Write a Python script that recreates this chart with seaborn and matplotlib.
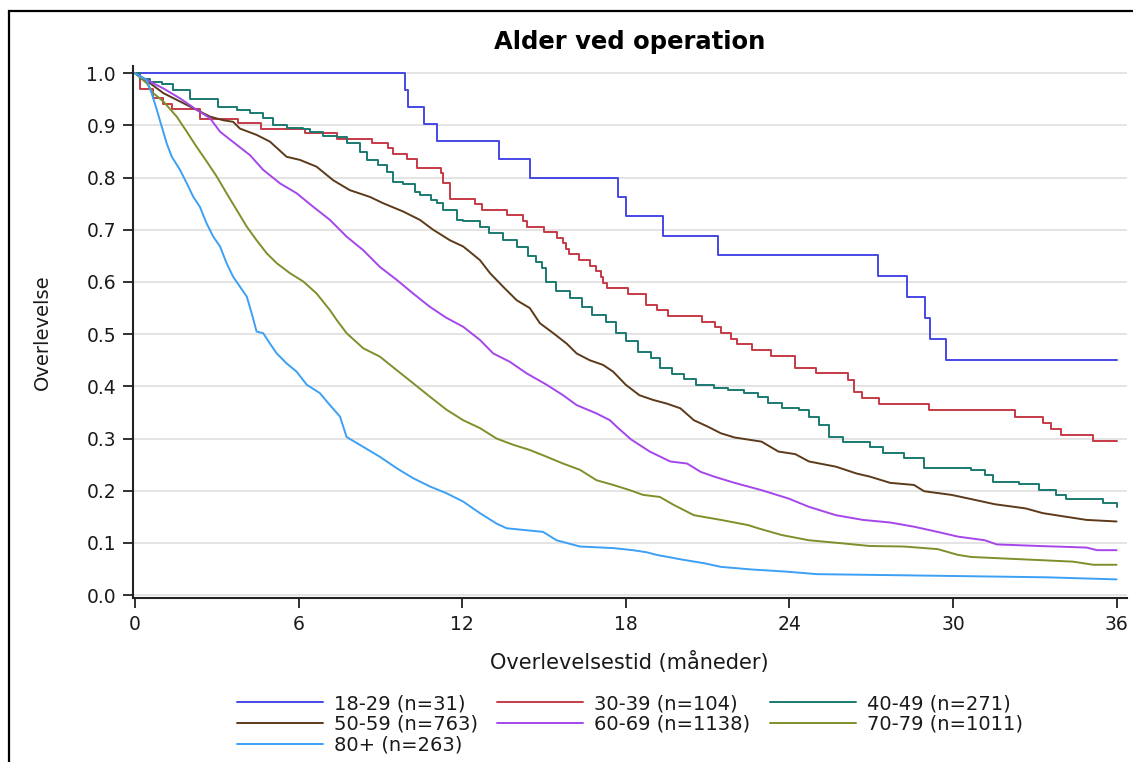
import numpy as np
import pandas as pd
import matplotlib
matplotlib.use("Agg")
import matplotlib.pyplot as plt
import seaborn as sns
from matplotlib.lines import Line2D

# ---------------- data ----------------
groups = ["18-29 (n=31)", "30-39 (n=104)", "40-49 (n=271)", "50-59 (n=763)",
          "60-69 (n=1138)", "70-79 (n=1011)", "80+ (n=263)"]
colors = ["#4646E6", "#C53A45", "#1B7A70", "#5C3A1A", "#A546EB", "#7F8F2A", "#3CA0F5"]
stepped = [True, True, True, False, False, False, False]

t18 = [0, 9.9, 10.0, 10.6, 11.07, 13.35, 14.5, 17.7, 18.0, 19.36, 21.4, 27.25, 28.3,
       28.97, 29.15, 29.74, 36]
s18 = [1.0, 0.968, 0.935, 0.903, 0.871, 0.835, 0.799, 0.763, 0.726, 0.689, 0.652, 0.612,
       0.571, 0.531, 0.490, 0.45, 0.45]

t30 = [0, 0.18, 0.65, 1.03, 1.35, 2.38, 3.79, 4.61, 6.23, 7.42, 8.7, 9.29, 9.45, 9.96,
       10.33, 11.21, 11.31, 11.55, 12.47, 12.71, 13.64, 14.22, 14.38, 15.0, 15.49, 15.69,
       15.79, 15.9, 16.28, 16.7, 16.92, 17.1, 17.18, 17.3, 18.1, 18.76, 19.13, 19.55, 20.8,
       21.26, 21.48, 21.86, 22.09, 22.63, 23.33, 24.22, 24.97, 26.15, 26.36, 26.68, 27.3,
       29.13, 32.27, 33.3, 33.6, 33.95, 35.15, 36]
s30 = [1.0, 0.970, 0.952, 0.942, 0.931, 0.912, 0.904, 0.893, 0.885, 0.874, 0.866, 0.856,
       0.845, 0.835, 0.818, 0.808, 0.789, 0.760, 0.749, 0.738, 0.728, 0.717, 0.706, 0.695,
       0.685, 0.674, 0.663, 0.653, 0.642, 0.631, 0.621, 0.610, 0.599, 0.588, 0.577, 0.556,
       0.546, 0.535, 0.524, 0.513, 0.502, 0.491, 0.481, 0.470, 0.459, 0.436, 0.425, 0.412,
       0.390, 0.378, 0.366, 0.355, 0.342, 0.329, 0.318, 0.306, 0.295, 0.295]

t40 = [0, 0.2, 0.55, 0.98, 1.4, 2.0, 3.06, 3.73, 4.2, 4.7, 5.07, 5.56, 6.17, 6.42, 6.9,
       7.4, 7.76, 8.25, 8.5, 8.92, 9.23, 9.47, 9.84, 10.27, 10.45, 10.85, 11.06, 11.3, 11.8,
       12.04, 12.65, 13.0, 13.5, 14.0, 14.42, 14.7, 14.93, 15.08, 15.45, 15.96, 16.4, 16.77,
       17.29, 17.64, 18.0, 18.44, 18.93, 19.25, 19.69, 20.12, 20.56, 21.24, 21.74, 22.35,
       22.85, 23.22, 23.72, 24.34, 24.72, 25.09, 25.47, 25.96, 26.95, 27.45, 28.2, 28.94,
       30.66, 31.17, 31.48, 32.41, 33.16, 33.78, 34.15, 35.5, 36]
s40 = [1.0, 0.99, 0.984, 0.979, 0.968, 0.950, 0.936, 0.930, 0.923, 0.914, 0.901, 0.895,
       0.893, 0.888, 0.879, 0.877, 0.866, 0.850, 0.834, 0.824, 0.811, 0.792, 0.787, 0.773,
       0.767, 0.757, 0.751, 0.738, 0.719, 0.716, 0.706, 0.693, 0.680, 0.668, 0.650, 0.639,
       0.626, 0.600, 0.583, 0.569, 0.553, 0.537, 0.524, 0.502, 0.486, 0.466, 0.454, 0.435,
       0.424, 0.415, 0.403, 0.397, 0.393, 0.387, 0.380, 0.369, 0.358, 0.355, 0.342, 0.326,
       0.303, 0.294, 0.284, 0.273, 0.262, 0.243, 0.240, 0.230, 0.217, 0.213, 0.201, 0.192,
       0.185, 0.176, 0.169]

t50 = [0, 0.55, 1.04, 1.65, 2.26, 2.75, 3.24, 3.6, 3.85, 4.46, 4.95, 5.56, 6.05, 6.66,
       7.27, 7.88, 8.62, 9.1, 9.84, 10.45, 10.94, 11.55, 12.04, 12.65, 13.02, 13.5, 14.0,
       14.48, 14.85, 15.34, 15.83, 16.2, 16.68, 17.17, 17.54, 18.0, 18.5, 19.0, 19.5, 20.0,
       20.5, 21.0, 21.49, 21.99, 22.98, 23.6, 24.22, 24.72, 25.71, 26.46, 26.95, 27.7,
       28.57, 28.94, 29.94, 30.66, 31.54, 32.67, 33.29, 34.15, 34.9, 36]
s50 = [1.0, 0.981, 0.962, 0.946, 0.930, 0.917, 0.910, 0.907, 0.894, 0.882, 0.869, 0.840,
       0.834, 0.821, 0.795, 0.776, 0.763, 0.751, 0.735, 0.719, 0.700, 0.680, 0.668, 0.642,
       0.617, 0.591, 0.565, 0.550, 0.521, 0.502, 0.482, 0.463, 0.450, 0.441, 0.428, 0.403,
       0.383, 0.374, 0.367, 0.358, 0.335, 0.323, 0.310, 0.302, 0.294, 0.275, 0.270, 0.256,
       0.246, 0.233, 0.227, 0.215, 0.211, 0.199, 0.192, 0.184, 0.174, 0.166, 0.157, 0.150,
       0.144, 0.141]

t60 = [0, 0.55, 1.04, 1.65, 2.26, 2.75, 3.12, 3.73, 4.22, 4.7, 5.32, 5.93, 6.54, 7.15,
       7.76, 8.37, 8.98, 9.6, 10.2, 10.8, 11.4, 12.04, 12.65, 13.14, 13.75, 14.36, 15.1,
       15.7, 16.2, 16.93, 17.42, 17.7, 18.2, 18.88, 19.63, 20.25, 20.75, 21.24, 21.99,
       22.98, 23.97, 24.72, 25.71, 26.7, 27.7, 28.57, 29.44, 30.18, 31.17, 31.61, 33.16,
       34.9, 35.28, 36]
s60 = [1.0, 0.984, 0.971, 0.952, 0.930, 0.914, 0.888, 0.863, 0.843, 0.815, 0.789, 0.770,
       0.744, 0.719, 0.687, 0.661, 0.629, 0.604, 0.578, 0.553, 0.532, 0.514, 0.489, 0.463,
       0.447, 0.425, 0.403, 0.383, 0.364, 0.348, 0.335, 0.321, 0.298, 0.275, 0.256, 0.252,
       0.236, 0.227, 0.215, 0.201, 0.185, 0.169, 0.153, 0.144, 0.139, 0.131, 0.121, 0.112,
       0.105, 0.097, 0.094, 0.091, 0.086, 0.086]

t70 = [0, 0.43, 0.67, 1.04, 1.53, 1.9, 2.26, 2.63, 3.0, 3.36, 3.73, 4.1, 4.46, 4.83, 5.2,
       5.68, 6.17, 6.66, 7.15, 7.4, 7.76, 8.37, 8.98, 9.6, 10.2, 10.82, 11.43, 12.04, 12.65,
       13.26, 13.87, 14.48, 15.1, 15.7, 16.32, 16.93, 17.54, 18.15, 18.63, 19.25, 19.75,
       20.5, 21.49, 22.49, 22.85, 23.72, 24.72, 25.96, 26.95, 28.2, 29.44, 30.18, 30.66,
       31.9, 33.16, 34.4, 35.15, 36]
s70 = [1.0, 0.981, 0.962, 0.946, 0.917, 0.888, 0.859, 0.831, 0.802, 0.770, 0.738, 0.706,
       0.680, 0.655, 0.636, 0.617, 0.601, 0.578, 0.546, 0.527, 0.502, 0.473, 0.457, 0.431,
       0.406, 0.380, 0.355, 0.335, 0.320, 0.300, 0.288, 0.278, 0.265, 0.252, 0.240, 0.220,
       0.211, 0.201, 0.192, 0.188, 0.173, 0.153, 0.144, 0.134, 0.128, 0.115, 0.105, 0.099,
       0.094, 0.093, 0.088, 0.077, 0.073, 0.070, 0.067, 0.064, 0.058, 0.058]

t80 = [0, 0.43, 0.61, 0.8, 0.98, 1.16, 1.35, 1.65, 1.9, 2.14, 2.38, 2.63, 2.87, 3.12, 3.36,
       3.6, 3.85, 4.1, 4.28, 4.46, 4.7, 4.95, 5.2, 5.56, 5.93, 6.3, 6.78, 7.15, 7.52, 7.76,
       8.37, 8.98, 9.6, 10.2, 10.82, 11.43, 12.04, 12.65, 13.26, 13.63, 14.97, 15.46, 16.32,
       17.54, 18.26, 18.76, 19.13, 20.06, 20.87, 21.49, 22.61, 23.85, 25.03, 27.95, 33.42, 36]
s80 = [1.0, 0.987, 0.962, 0.930, 0.898, 0.866, 0.840, 0.815, 0.789, 0.763, 0.744, 0.712,
       0.687, 0.668, 0.636, 0.610, 0.591, 0.572, 0.540, 0.505, 0.502, 0.482, 0.463, 0.444,
       0.428, 0.403, 0.387, 0.364, 0.342, 0.303, 0.284, 0.265, 0.243, 0.224, 0.208, 0.195,
       0.179, 0.157, 0.137, 0.128, 0.121, 0.105, 0.093, 0.090, 0.086, 0.082, 0.077, 0.068,
       0.061, 0.054, 0.049, 0.045, 0.040, 0.038, 0.034, 0.030]

times = [t18, t30, t40, t50, t60, t70, t80]
surv = [s18, s30, s40, s50, s60, s70, s80]

x_ticks = [0, 6, 12, 18, 24, 30, 36]
y_ticks = [0.0, 0.1, 0.2, 0.3, 0.4, 0.5, 0.6, 0.7, 0.8, 0.9, 1.0]

title = "Alder ved operation"
xlabel = "Overlevelsestid (måneder)"
ylabel = "Overlevelse"

# ---------------- plot ----------------
sns.set_theme(style="white")
plt.rcParams['font.family'] = ['DejaVu Sans']

fig = plt.figure(figsize=(11.34, 7.62), dpi=100)
ax = fig.add_axes([0.1170, 0.2148, 0.8765, 0.6990])

for g, t, s, c, st in zip(groups, times, surv, colors, stepped):
    d = pd.DataFrame({"t": t, "S": s})
    kw = dict(drawstyle="steps-post") if st else {}
    sns.lineplot(data=d, x="t", y="S", ax=ax, color=c, lw=1.4, label=g,
                 estimator=None, sort=False, **kw)

ax.set_xlim(-0.085, 36.37)
ax.set_ylim(-0.0063, 1.0146)
ax.set_xticks(x_ticks)
ax.set_xticklabels([str(v) for v in x_ticks])
ax.set_yticks(y_ticks)
ax.set_yticklabels([f"{v:.1f}" for v in y_ticks])
ax.yaxis.grid(True, color="#e2e2e2", lw=1.3)
ax.xaxis.grid(False)
ax.set_axisbelow(True)
for sp in ["top", "right"]:
    ax.spines[sp].set_visible(False)
for sp in ["left", "bottom"]:
    ax.spines[sp].set_color("#222222")
    ax.spines[sp].set_linewidth(1.5)
ax.tick_params(axis="both", direction="out", length=7, width=1.3, colors="#222222",
               labelsize=13.5, pad=5, left=True, bottom=True)
for lab in ax.get_xticklabels() + ax.get_yticklabels():
    lab.set_color("#1a1a1a")

ax.set_title(title, fontsize=17.5, fontweight="bold", pad=12, color="black")
ax.set_xlabel(xlabel, fontsize=15, color="#1a1a1a")
ax.set_ylabel(ylabel, fontsize=14, color="#1a1a1a")
ax.xaxis.set_label_coords(0.5, -0.098)
ax.yaxis.set_label_coords(-0.081, 0.5)

handles, labels = ax.get_legend_handles_labels()
ax.get_legend().remove()
order = [0, 3, 6, 1, 4, 2, 5]
leg = fig.legend([handles[i] for i in order], [labels[i] for i in order],
                 loc="upper center", bbox_to_anchor=(0.5553, 0.1122), ncol=3, frameon=False,
                 fontsize=14, handlelength=4.42, handletextpad=0.57, columnspacing=1.0,
                 labelspacing=0.1, borderpad=0.4)
for txt in leg.get_texts():
    txt.set_color("#1a1a1a")

# frame of the surrounding figure (only top and left edges are inside the picture)
x_left = 8.5 / 1134
y_top = 1 - 10.5 / 762
fig.add_artist(Line2D([x_left, 0.9995], [y_top, y_top], transform=fig.transFigure,
                      color="black", lw=1.6, solid_capstyle="butt"))
fig.add_artist(Line2D([x_left, x_left], [0.0, y_top], transform=fig.transFigure,
                      color="black", lw=1.6, solid_capstyle="projecting"))

fig.savefig("out.png", dpi=100)
